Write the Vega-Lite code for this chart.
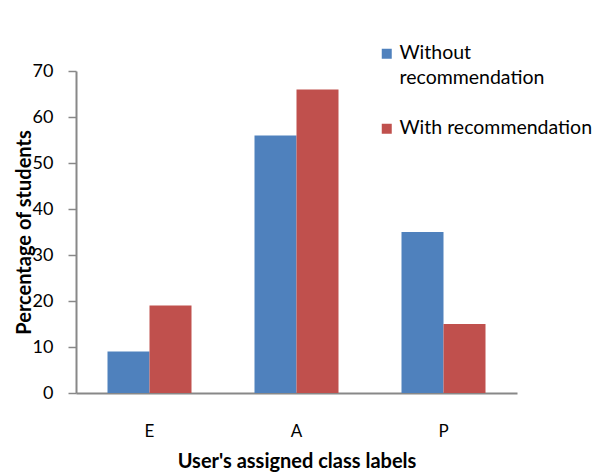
{
  "$schema": "https://vega.github.io/schema/vega-lite/v6.json",
  "width": 441,
  "height": 322,
  "autosize": {"type": "none"},
  "padding": {"left": 76, "top": 71, "right": 92, "bottom": 80},
  "background": "white",
  "config": {
    "view": {"stroke": null},
    "font": "Lato",
    "style": {"guide-label": {"lineHeight": 25}},
    "axis": {"labelFont": "Lato", "titleFont": "Lato", "labelColor": "#000", "titleColor": "#000", "domainColor": "#888888", "tickColor": "#888888", "domainWidth": 2}
  },
  "data": {
    "values": [
      {"label": "E", "series": "Without recommendation", "value": 9},
      {"label": "E", "series": "With recommendation", "value": 19},
      {"label": "A", "series": "Without recommendation", "value": 56},
      {"label": "A", "series": "With recommendation", "value": 66},
      {"label": "P", "series": "Without recommendation", "value": 35},
      {"label": "P", "series": "With recommendation", "value": 15}
    ]
  },
  "mark": {"type": "bar"},
  "encoding": {
    "x": {
      "field": "label", "type": "nominal", "sort": ["E", "A", "P"],
      "scale": {"paddingInner": 0, "paddingOuter": 0},
      "axis": {"title": "User's assigned class labels", "labelAngle": 0, "ticks": false, "labelPadding": 30, "labelFontSize": 17, "titleFontSize": 20, "titleFontWeight": "bold", "titlePadding": 12, "grid": false}
    },
    "xOffset": {
      "field": "series", "type": "nominal", "sort": ["Without recommendation", "With recommendation"],
      "scale": {"paddingInner": 0, "paddingOuter": 0.75}
    },
    "y": {
      "field": "value", "type": "quantitative",
      "scale": {"domain": [0, 70], "nice": false},
      "axis": {"title": "Percentage of students", "values": [0, 10, 20, 30, 40, 50, 60, 70], "grid": false, "tickSize": 8, "tickWidth": 1.5, "labelPadding": 15, "labelFontSize": 18, "titleFontSize": 20, "titleFontWeight": "bold", "titleX": -52, "titleY": 161, "titleAngle": -90, "titleAlign": "center", "titleBaseline": "middle"}
    },
    "color": {
      "field": "series", "type": "nominal", "sort": ["Without recommendation", "With recommendation"],
      "scale": {"range": ["#4f81bd", "#c0504d"]},
      "legend": {
        "title": null, "orient": "none", "legendX": 301, "legendY": -22,
        "symbolType": "M-1,-2H1V0H-1Z", "symbolSize": 100, "symbolStrokeWidth": 0,
        "labelFontSize": 19.5, "labelFont": "Lato", "labelColor": "#000", "labelLimit": 300,
        "labelExpr": "datum.label == 'Without recommendation' ? ['Without', 'recommendation'] : datum.label",
        "labelBaseline": "alphabetic", "labelOffset": 3, "rowPadding": 29
      }
    }
  }
}
